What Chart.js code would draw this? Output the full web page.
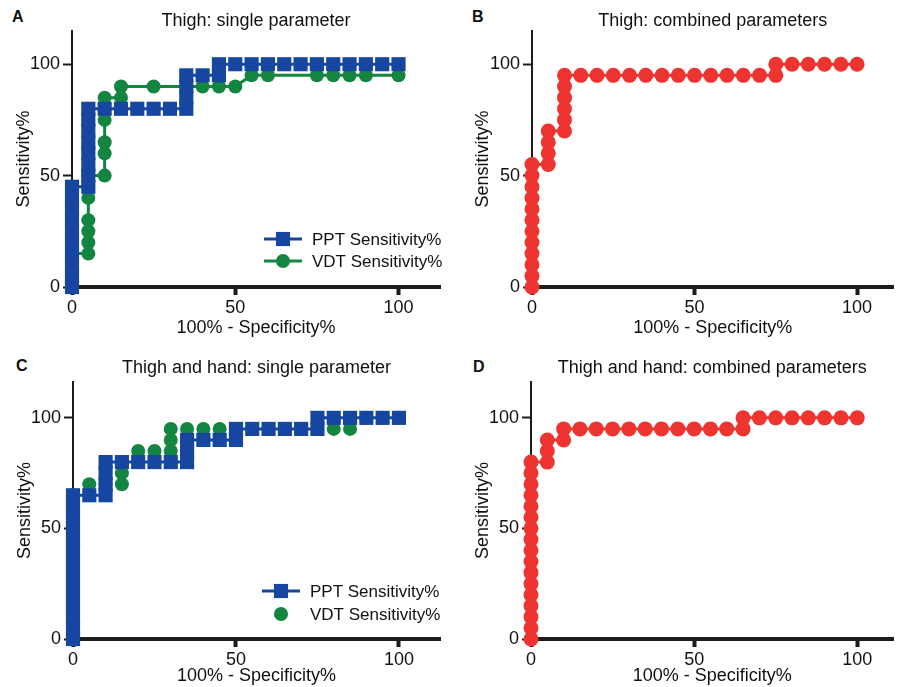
<!DOCTYPE html>
<html>
<head>
<meta charset="utf-8">
<script src="https://cdn.jsdelivr.net/npm/chart.js@4.4.0/dist/chart.umd.min.js"></script>
<style>
  body { margin: 0; background: #fff; }
  #wrap { position: relative; width: 901px; height: 687px; }
  canvas { position: absolute; }
  .tag { position: absolute; font: bold 16px "Liberation Sans", Arial, sans-serif; line-height: 16px; color: #111; }
</style>
</head>
<body>
<div id="wrap">
  <div class="tag" style="left:12px; top:9px;">A</div>
  <div class="tag" style="left:472px; top:9px;">B</div>
  <div class="tag" style="left:16px; top:358px;">C</div>
  <div class="tag" style="left:473px; top:359px;">D</div>
  <canvas id="panelA" width="450" height="345" style="left:0; top:0;"></canvas>
  <canvas id="panelB" width="451" height="345" style="left:450px; top:0;"></canvas>
  <canvas id="panelC" width="450" height="335" style="left:0; top:352px;"></canvas>
  <canvas id="panelD" width="451" height="335" style="left:450px; top:352px;"></canvas>
</div>
<script>
// ticks on both axes
const tickValues = [0, 50, 100];

// A: thigh, single parameter
const pptAX = [0, 0, 0, 0, 0, 0, 0, 0, 0, 0, 5, 5, 5, 5, 5, 5, 5, 5, 10, 15, 20, 25, 30, 35, 35, 35, 35, 40, 45, 45, 50, 55, 60, 65, 70, 75, 80, 85, 90, 95, 100];
const pptAY = [0, 5, 10, 15, 20, 25, 30, 35, 40, 45, 45, 50, 55, 60, 65, 70, 75, 80, 80, 80, 80, 80, 80, 80, 85, 90, 95, 95, 95, 100, 100, 100, 100, 100, 100, 100, 100, 100, 100, 100, 100];
const vdtAX = [0, 0, 0, 0, 5, 5, 5, 5, 5, 5, 10, 10, 10, 10, 10, 15, 15, 25, 40, 45, 50, 55, 60, 75, 80, 85, 90, 100];
const vdtAY = [0, 5, 10, 15, 15, 20, 25, 30, 40, 50, 50, 60, 65, 75, 85, 85, 90, 90, 90, 90, 90, 95, 95, 95, 95, 95, 95, 95];

// B: thigh, combined parameters
const combBX = [0, 0, 0, 0, 0, 0, 0, 0, 0, 0, 0, 0, 5, 5, 5, 5, 10, 10, 10, 10, 10, 10, 15, 20, 25, 30, 35, 40, 45, 50, 55, 60, 65, 70, 75, 75, 80, 85, 90, 95, 100];
const combBY = [0, 5, 10, 15, 20, 25, 30, 35, 40, 45, 50, 55, 55, 60, 65, 70, 70, 75, 80, 85, 90, 95, 95, 95, 95, 95, 95, 95, 95, 95, 95, 95, 95, 95, 95, 100, 100, 100, 100, 100, 100];

// C: thigh and hand, single parameter
const pptCX = [0, 0, 0, 0, 0, 0, 0, 0, 0, 0, 0, 0, 0, 0, 5, 10, 10, 10, 10, 15, 20, 25, 30, 35, 35, 35, 40, 45, 50, 50, 55, 60, 65, 70, 75, 75, 80, 85, 90, 95, 100];
const pptCY = [0, 5, 10, 15, 20, 25, 30, 35, 40, 45, 50, 55, 60, 65, 65, 65, 70, 75, 80, 80, 80, 80, 80, 80, 85, 90, 90, 90, 90, 95, 95, 95, 95, 95, 95, 100, 100, 100, 100, 100, 100];
const vdtCX = [0, 0, 0, 0, 0, 0, 0, 5, 10, 15, 15, 15, 20, 25, 30, 30, 30, 35, 40, 45, 50, 60, 70, 80, 85, 90, 95, 100];
const vdtCY = [0, 10, 20, 30, 40, 50, 65, 70, 70, 70, 75, 80, 85, 85, 85, 90, 95, 95, 95, 95, 95, 95, 95, 95, 95, 100, 100, 100];

// D: thigh and hand, combined parameters
const combDX = [0, 0, 0, 0, 0, 0, 0, 0, 0, 0, 0, 0, 0, 0, 0, 0, 0, 5, 5, 5, 10, 10, 15, 20, 25, 30, 35, 40, 45, 50, 55, 60, 65, 65, 70, 75, 80, 85, 90, 95, 100];
const combDY = [0, 5, 10, 15, 20, 25, 30, 35, 40, 45, 50, 55, 60, 65, 70, 75, 80, 80, 85, 90, 90, 95, 95, 95, 95, 95, 95, 95, 95, 95, 95, 95, 95, 100, 100, 100, 100, 100, 100, 100, 100];

const BLUE = '#1646a0';
const GREEN = '#138541';
const RED = '#ee3430';
const AXIS = '#1c1c1c';
const TEXT = '#111111';
const FONT = '"Liberation Sans", Arial, Helvetica, sans-serif';

function pts(xs, ys) {
    return xs.map((x, i) => ({ x: x, y: ys[i] }));
}

// Prism style legend sitting inside the plot (line with the marker on it)
const insideLegend = {
    id: 'insideLegend',
    afterDraw(chart, args, opts) {
        if (!opts || !opts.rows) return;
        const ctx = chart.ctx;
        ctx.save();
        opts.rows.forEach((idx, i) => {
            const ds = chart.data.datasets[idx];
            const y = opts.y + i * opts.gap;
            if (ds.showLine !== false) {
                ctx.strokeStyle = ds.borderColor;
                ctx.lineWidth = ds.borderWidth;
                ctx.beginPath();
                ctx.moveTo(opts.x, y);
                ctx.lineTo(opts.x + opts.len, y);
                ctx.stroke();
            }
            ctx.fillStyle = ds.pointBackgroundColor;
            Chart.helpers.drawPoint(ctx, {
                pointStyle: ds.pointStyle, radius: ds.pointRadius, rotation: 0, borderWidth: 0
            }, opts.x + opts.len / 2, y);
            ctx.fillStyle = TEXT;
            ctx.font = '17px ' + FONT;
            ctx.textBaseline = 'middle';
            ctx.textAlign = 'left';
            ctx.fillText(ds.label, opts.x + opts.len + 10, y + 1);
        });
        ctx.restore();
    }
};

function series(label, data, color, style, radius, showLine) {
    return {
        label: label,
        data: data,
        borderColor: color,
        backgroundColor: color,
        pointBackgroundColor: color,
        pointBorderWidth: 0,
        pointStyle: style,
        pointRadius: radius,
        pointHoverRadius: radius,
        borderWidth: 3,
        tension: 0,
        showLine: showLine,
        clip: false
    };
}

function panel(id, p) {
    return new Chart(document.getElementById(id), {
        type: 'line',
        data: { datasets: p.datasets },
        plugins: [insideLegend],
        options: {
            responsive: false,
            animation: false,
            events: [],
            layout: { padding: { left: 0, top: 0, right: p.padRight, bottom: 0 } },
            plugins: {
                legend: { display: false },
                tooltip: { enabled: false },
                title: {
                    display: true,
                    fullSize: false,
                    text: p.title,
                    color: TEXT,
                    font: { family: FONT, size: 18, weight: 'normal', lineHeight: 1.1 },
                    padding: { top: p.titleTop, bottom: p.titleBottom }
                },
                insideLegend: p.legend || {}
            },
            scales: {
                x: {
                    type: 'linear',
                    min: 0,
                    max: p.xMax,
                    afterBuildTicks: s => { s.ticks = tickValues.map(v => ({ value: v })); },
                    afterFit: s => { s.height = p.xHeight; },
                    grid: { drawOnChartArea: false, tickLength: 8, tickWidth: 4, tickColor: AXIS },
                    border: { color: AXIS, width: 4 },
                    ticks: { color: TEXT, padding: 2, maxRotation: 0, font: { family: FONT, size: 18 } },
                    title: {
                        display: true,
                        text: '100% - Specificity%',
                        color: TEXT,
                        font: { family: FONT, size: 18 },
                        padding: { top: 0, bottom: p.xTitleBottom }
                    }
                },
                y: {
                    type: 'linear',
                    min: 0,
                    max: p.yMax,
                    afterBuildTicks: s => { s.ticks = tickValues.map(v => ({ value: v })); },
                    afterFit: s => { s.width = p.yWidth; },
                    grid: { drawOnChartArea: false, tickLength: 9, tickWidth: 2, tickColor: AXIS },
                    border: { color: AXIS, width: 2 },
                    ticks: { color: TEXT, padding: 3, font: { family: FONT, size: 18 } },
                    title: {
                        display: true,
                        text: 'Sensitivity%',
                        color: TEXT,
                        font: { family: FONT, size: 18 },
                        padding: { top: p.yTitleTop, bottom: 0 }
                    }
                }
            }
        }
    });
}

panel('panelA', {
    title: 'Thigh: single parameter',
    datasets: [
        series('PPT Sensitivity%', pts(pptAX, pptAY), BLUE, 'rect', 10, true),
        series('VDT Sensitivity%', pts(vdtAX, vdtAY), GREEN, 'circle', 7, true)
    ],
    legend: { rows: [0, 1], x: 264, y: 239, gap: 22, len: 38 },
    padRight: 2, yWidth: 72, xHeight: 58, xMax: 112.7, yMax: 115,
    titleTop: 11, titleBottom: 0, xTitleBottom: 6, yTitleTop: 13
});

panel('panelB', {
    title: 'Thigh: combined parameters',
    datasets: [
        series('Sensitivity%', pts(combBX, combBY), RED, 'circle', 7.5, true)
    ],
    padRight: 1, yWidth: 82, xHeight: 58, xMax: 111.2, yMax: 115,
    titleTop: 11, titleBottom: 0, xTitleBottom: 6, yTitleTop: 22
});

panel('panelC', {
    title: 'Thigh and hand: single parameter',
    datasets: [
        series('PPT Sensitivity%', pts(pptCX, pptCY), BLUE, 'rect', 10, true),
        series('VDT Sensitivity%', pts(vdtCX, vdtCY), GREEN, 'circle', 7, false)
    ],
    legend: { rows: [0, 1], x: 262, y: 239, gap: 23, len: 38 },
    padRight: 2, yWidth: 73, xHeight: 48, xMax: 112.6, yMax: 116.3,
    titleTop: 6, titleBottom: 4, xTitleBottom: 0, yTitleTop: 14
});

panel('panelD', {
    title: 'Thigh and hand: combined parameters',
    datasets: [
        series('Sensitivity%', pts(combDX, combDY), RED, 'circle', 7.5, true)
    ],
    padRight: 1, yWidth: 81, xHeight: 48, xMax: 111.1, yMax: 116.3,
    titleTop: 6, titleBottom: 4, xTitleBottom: 0, yTitleTop: 22
});
</script>
</body>
</html>
